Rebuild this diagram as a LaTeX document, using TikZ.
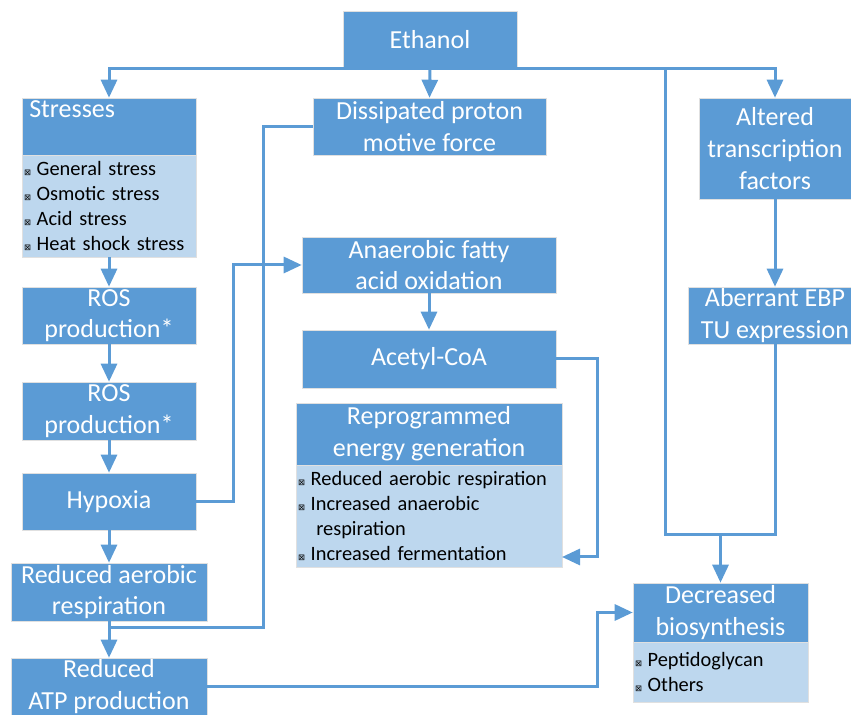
\documentclass[tikz,border=0pt]{standalone}
\usepackage{fontspec}
\setmainfont{Carlito}
\newfontfamily\markfont{DejaVu Sans}
\usepackage{tikz}
\usetikzlibrary{positioning, arrows.meta, calc}

\definecolor{boxblue}{HTML}{5B9BD5}
\definecolor{listblue}{HTML}{BDD7EE}
\newdimen\pxu \pxu=0.025cm
\newcommand{\mk}{{\markfont\fontsize{6}{6}\selectfont ⊠}\hspace{4pt}}

\begin{document}
\begin{tikzpicture}[
    x=0.025cm, y=-0.025cm,
    box/.style={rectangle, draw=black!12, fill=boxblue, text=white, align=center,
                inner sep=0pt, font=\fontsize{18.5}{22.5}\selectfont},
    listbox/.style={rectangle, draw=black!12, fill=listblue, text=black, align=left,
                inner xsep=2\pxu, inner ysep=0pt, font=\fontsize{14.5}{17.7}\selectfont},
    title/.style={text=white, inner sep=0pt, font=\fontsize{18.5}{22.5}\selectfont},
    arrow/.style={-{Triangle[length=0.45cm, width=0.4cm]}, line width=0.075cm, draw=boxblue},
    link/.style={line width=0.075cm, draw=boxblue}
]
    \useasboundingbox (0,0) rectangle (851,715);

    % Top
    \node[box, minimum width=174\pxu, minimum height=57\pxu] (ethanol) at (430,39.5) {Ethanol};

    % Left column
    \node[box, minimum width=174\pxu, minimum height=57\pxu] (stresshead) at (109,126.5) {};
    \node[title, anchor=north west] (stresstitle) at (29,100) {Stresses};
    \node[listbox, text width=170\pxu, minimum height=102\pxu] (stresslist) at (109,206)
        {\mk General stress\\ \mk Osmotic stress\\ \mk Acid stress\\ \mk Heat shock stress};
    \node[box, minimum width=174\pxu, minimum height=57\pxu] (ros1) at (109,315.5) {ROS\\production*};
    \node[box, minimum width=174\pxu, minimum height=58\pxu] (ros2) at (109,411) {ROS\\production*};
    \node[box, minimum width=174\pxu, minimum height=57\pxu] (hypoxia) at (109,501.5) {Hypoxia};
    \node[box, minimum width=196\pxu, minimum height=58\pxu] (redaer) at (109,592) {Reduced aerobic\\respiration};
    \node[box, minimum width=196\pxu, minimum height=57\pxu] (atp) at (109,686.5) {Reduced\\ATP production};

    % Middle column
    \node[box, minimum width=233\pxu, minimum height=57\pxu] (dpmf) at (429.5,126.5) {Dissipated proton\\motive force};
    \node[box, minimum width=254\pxu, minimum height=56\pxu] (afao) at (429,265) {Anaerobic fatty\\acid oxidation};
    \node[box, minimum width=254\pxu, minimum height=58\pxu] (acoa) at (429,359) {Acetyl-CoA};
    \node[box, minimum width=266\pxu, minimum height=62\pxu] (reprohead) at (429,434) {Reprogrammed\\energy generation};
    \node[listbox, text width=262\pxu, minimum height=102\pxu] (reprolist) at (429,516)
        {\mk Reduced aerobic respiration\\ \mk Increased anaerobic\\ \hspace{13pt}respiration\\ \mk Increased fermentation};

    % Right column
    \node[box, minimum width=152\pxu, minimum height=101\pxu] (atf) at (775,148.5) {Altered\\transcription\\factors};
    \node[box, minimum width=174\pxu, minimum height=57\pxu] (aebp) at (775,315.5) {Aberrant EBP\\TU expression};
    \node[box, minimum width=175\pxu, minimum height=59\pxu] (decrhead) at (720.5,612.5) {Decreased\\biosynthesis};
    \node[listbox, text width=171\pxu, minimum height=60\pxu] (decrlist) at (720.5,672)
        {\mk Peptidoglycan\\ \mk Others};

    % Bends
    \coordinate (merge) at (108,628);
    \coordinate (bendA) at (263,628);
    \coordinate (joinL) at (665,535);
    \coordinate (joinR) at (775,535);
    \coordinate (reproin) at (562,557);

    % From ethanol
    \draw[arrow] (ethanol.south) -- (dpmf.north);
    \draw[arrow] (ethanol.south) -| (stresshead.north);
    \draw[arrow] (ethanol.south) -| (atf.north);
    \draw[link] (ethanol.south) -| (joinL) -- (joinR) -- (aebp.south);

    % Left chain
    \draw[arrow] (stresslist.south) -- (ros1.north);
    \draw[arrow] (ros1.south) -- (ros2.north);
    \draw[arrow] (ros2.south) -- (hypoxia.north);
    \draw[arrow] (hypoxia.south) -- (redaer.north);
    \draw[arrow] (redaer.south) -- (atp.north);
    \draw[link] (dpmf.west) -| (bendA) -- (merge);

    % Middle chain
    \draw[arrow] (hypoxia.east) -- ++(37,0) |- (afao.west);
    \draw[arrow] (afao.south) -- (acoa.north);
    \draw[arrow] (acoa.east) -- ++(41,0) |- (reproin);

    % Right chain
    \draw[arrow] (atf.south) -- (aebp.north);
    \draw[arrow] (decrhead.north |- joinL) -- (decrhead.north);
    \draw[arrow] (atp.east) -- ++(390,0) |- (decrhead.west);

\end{tikzpicture}
\end{document}
